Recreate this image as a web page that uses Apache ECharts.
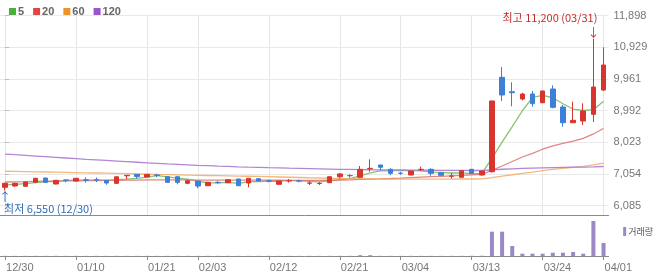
<!DOCTYPE html>
<html><head><meta charset="utf-8">
<script src="https://cdn.jsdelivr.net/npm/echarts@6/dist/echarts.min.js"></script>
<style>html,body{margin:0;padding:0;background:#fff}#c{width:670px;height:276px}</style>
</head><body><div id="c"></div>
<script>
const dates = ['12/30','01/02','01/03','01/06','01/07','01/08','01/09','01/10','01/13','01/14','01/15','01/16','01/17','01/20','01/21','01/22','01/23','01/24','01/31','02/03','02/04','02/05','02/06','02/07','02/10','02/11','02/12','02/13','02/14','02/17','02/18','02/19','02/20','02/21','02/24','02/25','02/26','02/27','02/28','03/04','03/05','03/06','03/07','03/10','03/11','03/12','03/13','03/14','03/17','03/18','03/19','03/20','03/21','03/24','03/25','03/26','03/27','03/28','03/31','04/01'];
const opens  = [6648,6690,6680,6800,6932,6749,6875,6840,6880,6880,6862,6770,7000,7045,6963,7025,6972,6972,6770,6840,6697,6800,6789,6902,6780,6911,6845,6740,6845,6845,6775,6765,6789,6972,7008,6954,7215,7330,7198,7080,7024,7190,7198,7094,6990,6954,7198,7024,7125,10013,9572,9349,9502,9236,9655,9104,8624,8676,8881,9624];
const closes = [6770,6770,6810,6923,6800,6862,6865,6923,6860,6870,6780,6970,7015,6980,7045,7010,6800,6800,6850,6688,6800,6789,6880,6697,6923,6840,6840,6840,6850,6840,6780,6770,6972,7055,7003,7198,7229,7260,7076,7076,7146,7198,7076,7015,6994,7156,7076,7146,9290,9472,9542,9502,9205,9594,9095,8624,8697,8982,9716,10389];
const lows   = [6550,6660,6660,6790,6790,6740,6800,6830,6790,6810,6727,6760,6893,6910,6955,6960,6790,6740,6740,6617,6690,6760,6780,6690,6648,6830,6800,6730,6790,6800,6720,6720,6780,6920,6940,6950,7125,7160,7020,7030,7020,7150,7000,7010,6920,6950,7060,7010,7100,9288,9126,9309,9113,9220,9064,8502,8624,8554,8645,9594];
const highs  = [6790,6790,6830,6940,6940,6870,6880,6930,6954,6950,6870,6975,7020,7050,7050,7060,6980,6980,6880,6850,6810,6850,6890,6910,6930,6920,6880,6845,6900,6880,6830,6810,6980,7080,7050,7300,7504,7340,7230,7120,7150,7280,7230,7100,7080,7160,7210,7160,9290,10328,9860,9542,9594,9610,9768,9165,9266,9217,11200,10930];
const ma5   = [6720,6740,6760,6790,6815,6833,6852,6875,6862,6876,6860,6881,6899,6923,6958,7004,6970,6927,6901,6830,6788,6785,6801,6771,6818,6826,6836,6828,6859,6842,6830,6816,6842,6883,6916,7000,7091,7149,7153,7168,7157,7151,7114,7102,7086,7088,7063,7077,7532,8028,8505,8990,9402,9463,9388,9204,9043,8998,9023,9282];
const ma20  = [6810,6815,6820,6828,6833,6838,6842,6847,6852,6856,6858,6862,6866,6869,6873,6876,6875,6874,6873,6870,6870,6870,6868,6867,6866,6865,6864,6864,6863,6862,6860,6858,6864,6870,6877,6890,6897,6905,6917,6930,6945,6958,6972,6985,6998,7012,7030,7046,7168,7300,7438,7575,7686,7813,7917,7989,8062,8148,8280,8446];
const ma60  = [7140,7134,7128,7122,7116,7110,7104,7098,7092,7086,7080,7072,7064,7056,7048,7040,7034,7028,7022,7016,7010,7004,6998,6992,6986,6980,6972,6964,6956,6948,6940,6933,6926,6920,6916,6912,6908,6904,6900,6899,6898,6898,6899,6900,6901,6902,6903,6905,6945,6988,7032,7076,7115,7160,7196,7225,7255,7290,7335,7390];
const ma120 = [7666,7645,7625,7605,7585,7565,7545,7525,7505,7487,7469,7451,7433,7415,7398,7380,7362,7348,7335,7322,7310,7298,7287,7276,7266,7257,7248,7240,7232,7225,7218,7211,7205,7199,7194,7190,7186,7183,7180,7177,7174,7172,7170,7168,7166,7164,7162,7163,7182,7200,7214,7226,7236,7244,7252,7258,7263,7268,7273,7285];
const volumes = [1500,1200,1400,1600,1300,1500,1200,1400,1300,1500,1200,1600,1400,1300,1500,1200,1400,1300,1500,1200,1400,1300,1500,1200,1400,1300,1500,1200,1400,1300,1500,1200,1400,1600,1500,8000,8000,1500,1400,1300,1500,1200,1400,1300,1500,1600,2000,2500,243000,243000,100000,23000,23000,23000,33000,33000,40000,23000,350000,130000];
const xTickLabels = ['12/30','01/10','01/21','02/03','02/12','02/21','03/04','03/13','03/24','04/01'];
const yTickValues = [6085,7054,8023,8992,9961,10929,11898];

const RED = '#d8352f', BLUE = '#3d7fd9';
const candles = dates.map((d, i) => [opens[i], closes[i], lows[i], highs[i]]);
let hiIdx = 0, loIdx = 0;
highs.forEach((v, i) => { if (v > highs[hiIdx]) hiIdx = i; });
lows.forEach((v, i) => { if (v < lows[loIdx]) loIdx = i; });
const fmt = v => Math.round(v).toLocaleString('en-US');
const tickIdx = xTickLabels.map(l => dates.indexOf(l));
const isTick = (i) => tickIdx.indexOf(i) >= 0;
const KR = '"Noto Sans CJK KR", sans-serif';

const chart = echarts.init(document.getElementById('c'), null, {renderer: 'canvas'});
const maSeries = (name, data, color, lineColor) => ({
  name, type: 'line', data, xAxisIndex: 0, yAxisIndex: 0, showSymbol: false, symbol: 'none',
  itemStyle: {color}, lineStyle: {color: lineColor, width: 1.3}, z: 3, silent: true
});
chart.setOption({
  animation: false,
  textStyle: {fontFamily: '"Liberation Sans", Arial, sans-serif'},
  legend: [{
    data: ['5','20','60','120'], left: 4, top: 1, icon: 'rect', itemWidth: 7, itemHeight: 7, itemGap: 9,
    textStyle: {fontSize: 11, fontWeight: 'bold', color: '#666', padding: [0,0,0,-3]}, selectedMode: false
  }, {
    data: ['거래량'], right: 12, top: 222, icon: 'rect', itemWidth: 3, itemHeight: 9,
    textStyle: {fontSize: 9, color: '#555', fontFamily: KR, padding: [0,0,0,-3]}, selectedMode: false
  }],
  grid: [
    {left: -1, width: 609.6, top: 15.7, height: 199.3},
    {left: -1, width: 609.6, top: 215, height: 41}
  ],
  xAxis: [{
    type: 'category', data: dates, gridIndex: 0, boundaryGap: true,
    axisLine: {show: true, lineStyle: {color: '#8a8a8a'}},
    axisTick: {show: false}, axisLabel: {show: false}, splitLine: {show: false}
  }, {
    type: 'category', data: dates, gridIndex: 1, boundaryGap: true,
    axisLine: {show: true, lineStyle: {color: '#8a8a8a'}},
    axisTick: {show: true, alignWithLabel: true, length: 4, interval: (i) => isTick(i), lineStyle: {color: '#8a8a8a'}},
    axisLabel: {show: true, interval: (i) => isTick(i), align: 'left', color: '#777', fontSize: 11, margin: 6, padding: [0,0,0,1]},
    splitLine: {show: false}
  }, {
    type: 'value', gridIndex: 0, min: -0.5, max: dates.length - 0.5, position: 'top',
    axisLine: {show: false}, axisLabel: {show: false},
    axisTick: {show: false, customValues: tickIdx},
    splitLine: {show: true, lineStyle: {color: '#e6e6e6'}}
  }],
  yAxis: [{
    type: 'value', gridIndex: 0, position: 'right', min: 5801, max: 11898, scale: true,
    axisLine: {show: true, lineStyle: {color: '#e2e2e2'}},
    axisTick: {show: true, length: 4, customValues: yTickValues, lineStyle: {color: '#bbb'}},
    axisLabel: {show: true, customValues: yTickValues, color: '#777', fontSize: 11, margin: 5, formatter: fmt},
    splitLine: {show: true, lineStyle: {color: '#e9e9e9'}}
  }, {
    type: 'value', gridIndex: 1, min: 0, max: 410000, show: false, splitLine: {show: false}
  }],
  series: [
    maSeries('5', ma5, '#4cae3c', 'rgba(120,190,95,0.9)'),
    maSeries('20', ma20, '#e04646', 'rgba(222,120,120,0.9)'),
    maSeries('60', ma60, '#f0922b', 'rgba(242,170,100,0.85)'),
    maSeries('120', ma120, '#9a55c8', 'rgba(170,120,210,0.9)'),
    {
      name: 'candle', type: 'candlestick', data: candles, xAxisIndex: 0, yAxisIndex: 0, barWidth: 5, z: 4,
      itemStyle: {color: RED, color0: BLUE, borderColor: RED, borderColor0: BLUE, borderWidth: 1},
      markPoint: {
        symbol: 'circle', symbolSize: 1, itemStyle: {color: 'rgba(0,0,0,0)'}, silent: true,
        data: [
          {coord: [dates[hiIdx], highs[hiIdx]], label: {show: true, formatter: '↓', position: 'top', distance: 0, color: '#c0302a', fontSize: 12, fontFamily: KR}},
          {coord: [dates[hiIdx], highs[hiIdx]], label: {show: true, formatter: '최고 ' + fmt(highs[hiIdx]) + ' (' + dates[hiIdx] + ')', position: 'inside', align: 'right', verticalAlign: 'middle', offset: [4, -21], color: '#c0302a', fontSize: 11, fontFamily: KR}},
          {coord: [dates[loIdx], lows[loIdx]], label: {show: true, formatter: '↑', position: 'bottom', distance: 0, color: '#2f6db5', fontSize: 12, fontFamily: KR}},
          {coord: [dates[loIdx], lows[loIdx]], label: {show: true, formatter: '최저 ' + fmt(lows[loIdx]) + ' (' + dates[loIdx] + ')', position: 'inside', align: 'left', verticalAlign: 'middle', offset: [-1, 18], color: '#2f6db5', fontSize: 11, fontFamily: KR}}
        ]
      }
    },
    {
      name: '거래량', type: 'bar', data: volumes, xAxisIndex: 1, yAxisIndex: 1, barWidth: 4,
      itemStyle: {color: '#9c88c6'}
    }
  ]
});
</script></body></html>
